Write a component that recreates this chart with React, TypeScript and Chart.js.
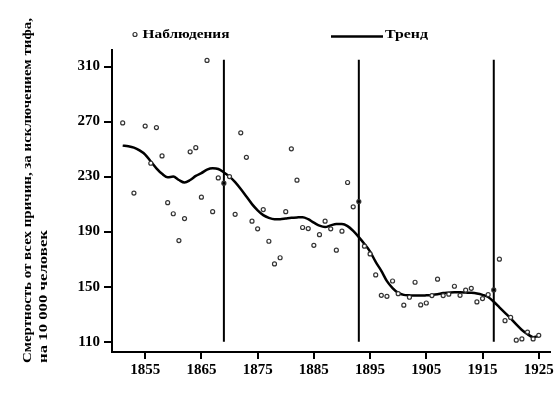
import React, { useEffect, useRef } from "react";
import { Chart, registerables } from "chart.js";

Chart.register(...registerables);

const obsYears = [1851, 1853, 1855, 1856, 1857, 1858, 1859, 1860, 1861, 1862, 1863, 1864, 1865, 1866, 1867, 1868, 1869, 1870, 1871, 1872, 1873, 1874, 1875, 1876, 1877, 1878, 1879, 1880, 1881, 1882, 1883, 1884, 1885, 1886, 1887, 1888, 1889, 1890, 1891, 1892, 1893, 1894, 1895, 1896, 1897, 1898, 1899, 1900, 1901, 1902, 1903, 1904, 1905, 1906, 1907, 1908, 1909, 1910, 1911, 1912, 1913, 1914, 1915, 1916, 1917, 1918, 1919, 1920, 1921, 1922, 1923, 1924, 1925];
const obsValues = [269, 218, 266.7, 239.7, 265.6, 245, 211, 203, 183.5, 199.5, 248, 251, 215, 314.4, 204.5, 229, 225.2, 230, 202.6, 261.8, 244, 197.6, 192, 206, 183, 166.5, 171, 204.5, 250.2, 227.4, 193, 192.2, 180, 187.8, 197.6, 192, 176.5, 190.3, 225.7, 208, 211.8, 179.4, 173.8, 158.5, 143.7, 143, 154.1, 144.9, 136.5, 142.3, 153.2, 136.7, 138.1, 143.5, 155.4, 143.5, 144.5, 150.3, 143.7, 147.4, 148.8, 138.9, 141.3, 144.2, 147.6, 170, 125.3, 127.6, 111.1, 112, 117, 112, 114.6];

const trendYears = [1851, 1852, 1853, 1854, 1855, 1856, 1857, 1858, 1859, 1860, 1861, 1862, 1863, 1864, 1865, 1866, 1867, 1868, 1869, 1870, 1871, 1872, 1873, 1874, 1875, 1876, 1877, 1878, 1879, 1880, 1881, 1882, 1883, 1884, 1885, 1886, 1887, 1888, 1889, 1890, 1891, 1892, 1893, 1894, 1895, 1896, 1897, 1898, 1899, 1900, 1901, 1902, 1903, 1904, 1905, 1906, 1907, 1908, 1909, 1910, 1911, 1912, 1913, 1914, 1915, 1916, 1917, 1918, 1919, 1920, 1921, 1922, 1923, 1924, 1925];
const trendValues = [252.5, 252, 251, 249, 246, 241, 236, 232, 229.5, 230, 227.5, 225.7, 227.5, 230.5, 232.5, 235, 236, 235.5, 233, 230, 226, 221, 215.5, 210, 205.5, 202, 200, 199, 199, 199.5, 200, 200.3, 200.5, 199, 196.5, 194.3, 193.3, 194.5, 195.5, 195.5, 194, 190.5, 186, 181, 175.5, 168, 161.5, 154, 149, 145.5, 144, 143.7, 143.5, 143.5, 143.7, 144, 144.5, 145.3, 145.6, 145.9, 145.9, 145.7, 145.5, 145, 144, 142.5, 139, 135, 131, 127, 122.5, 118.5, 115.5, 113.3, 114.3];

const breakYears = [1869, 1893, 1917];
const breakRange = [110, 315];

const xTicks = [1855, 1865, 1875, 1885, 1895, 1905, 1915, 1925];
const yTicks = [110, 150, 190, 230, 270, 310];

const legendObs = "Наблюдения";
const legendTrend = "Тренд";
const yTitle = ["Смертность от всех причин, за исключением тифа,", "на 10 000 человек"];

const FONT = "'Liberation Serif', 'Times New Roman', serif";

function stretchText(ctx: any, text: string, x: number, y: number, width: number) {
  const w = ctx.measureText(text).width;
  ctx.save();
  ctx.translate(x, y);
  ctx.scale(width / w, 1);
  ctx.fillText(text, 0, 0);
  ctx.restore();
}

export default function App() {
  const ref = useRef<HTMLCanvasElement | null>(null);

  useEffect(() => {
    document.body.style.margin = "0";
    const canvas = ref.current;
    if (!canvas) return;

    const overlay = {
      id: "overlay",
      afterDraw(chart: any) {
        const ctx = chart.ctx;
        ctx.save();
        ctx.fillStyle = "#000";
        // legend
        ctx.font = `bold 13px ${FONT}`;
        ctx.textBaseline = "alphabetic";
        ctx.textAlign = "left";
        ctx.beginPath();
        ctx.arc(135, 34.5, 2, 0, Math.PI * 2);
        ctx.strokeStyle = "#333";
        ctx.lineWidth = 1.2;
        ctx.fillStyle = "#fff";
        ctx.fill();
        ctx.stroke();
        ctx.fillStyle = "#000";
        stretchText(ctx, legendObs, 142.5, 37.5, 87);
        ctx.beginPath();
        ctx.moveTo(331, 36.5);
        ctx.lineTo(383, 36.5);
        ctx.lineWidth = 2.5;
        ctx.strokeStyle = "#000";
        ctx.stroke();
        stretchText(ctx, legendTrend, 385, 37.5, 43);
        // y title
        ctx.font = `bold 13px ${FONT}`;
        ctx.translate(30.5, 363);
        ctx.rotate(-Math.PI / 2);
        stretchText(ctx, yTitle[0], 0, 0, 345);
        stretchText(ctx, yTitle[1], 0, 16.7, 133);
        ctx.restore();
      },
    };

    const chart = new Chart(canvas, {
      type: "line",
      data: {
        datasets: [
          ...breakYears.map((yr) => ({
            label: "break" + yr,
            data: breakRange.map((v) => ({ x: yr, y: v })),
            borderColor: "#000",
            borderWidth: 2,
            pointRadius: 0,
            tension: 0,
            order: 3,
          })),
          {
            label: legendTrend,
            data: trendYears.map((yr, i) => ({ x: yr, y: trendValues[i] })),
            borderColor: "#000",
            borderWidth: 2.5,
            pointRadius: 0,
            tension: 0.4,
            cubicInterpolationMode: "monotone",
            order: 2,
          },
          {
            label: legendObs,
            data: obsYears.map((yr, i) => ({ x: yr, y: obsValues[i] })),
            showLine: false,
            pointRadius: 2,
            pointBorderWidth: 1.2,
            pointBorderColor: "#333",
            pointBackgroundColor: obsYears.map((yr) => (breakYears.includes(yr) ? "#000" : "#fff")),
            order: 1,
          },
        ] as any,
      },
      options: {
        animation: false,
        responsive: false,
        maintainAspectRatio: false,
        events: [],
        layout: { padding: { left: 0, top: 50, right: 10, bottom: 0 } },
        plugins: { legend: { display: false }, tooltip: { enabled: false } },
        scales: {
          x: {
            type: "linear",
            min: 1849.1,
            max: 1927,
            afterBuildTicks: (s: any) => {
              s.ticks = xTicks.map((v) => ({ value: v }));
            },
            afterFit: (s: any) => {
              s.height = 42;
            },
            grid: { drawOnChartArea: false, drawTicks: true, tickLength: 7, color: "#000", lineWidth: 2 },
            border: { display: true, color: "#000", width: 2 },
            ticks: {
              color: "#000",
              font: { family: FONT, size: 15, weight: "bold" },
              padding: 2,
              maxRotation: 0,
              autoSkip: false,
              callback: (v: any) => String(v),
            },
          },
          y: {
            type: "linear",
            min: 102.5,
            max: 322,
            afterBuildTicks: (s: any) => {
              s.ticks = yTicks.map((v) => ({ value: v }));
            },
            afterFit: (s: any) => {
              s.width = 112;
            },
            grid: { drawOnChartArea: false, drawTicks: true, tickLength: 8, color: "#000", lineWidth: 2 },
            border: { display: true, color: "#000", width: 2 },
            ticks: {
              color: "#000",
              font: { family: FONT, size: 15, weight: "bold" },
              padding: 4,
              autoSkip: false,
              callback: (v: any) => String(v),
            },
          },
        },
      },
      plugins: [overlay],
    });
    return () => chart.destroy();
  }, []);

  return (
    <div style={{ position: "absolute", left: 0, top: 0, width: 560, height: 394, background: "#fff" }}>
      <canvas ref={ref} width={560} height={394} style={{ width: 560, height: 394, display: "block" }} />
    </div>
  );
}
